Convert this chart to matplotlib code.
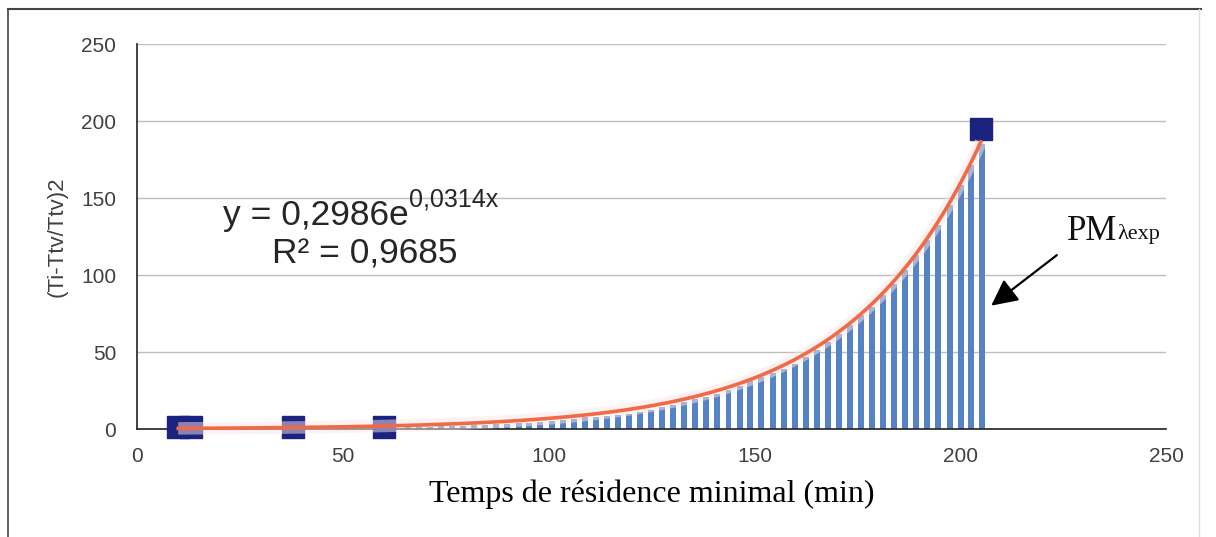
import numpy as np
import matplotlib.pyplot as plt
from matplotlib.lines import Line2D

# points mesurés (carrés)
pts_x = [10, 13, 38, 60, 205]
pts_y = [1.0, 1.0, 1.2, 1.0, 195]

# barres PM lambda exp
bar_x = [65.8, 68.5, 71.2, 73.9, 76.5, 79.2, 81.9, 84.6, 87.3, 90.0,
         92.7, 95.3, 98.0, 100.7, 103.4, 106.1, 108.8, 111.4, 114.1, 116.8,
         119.5, 122.2, 124.9, 127.6, 130.2, 132.9, 135.6, 138.3, 141.0, 143.7,
         146.4, 149.0, 151.7, 154.4, 157.1, 159.8, 162.5, 165.1, 167.8, 170.5,
         173.2, 175.9, 178.6, 181.3, 183.9, 186.6, 189.3, 192.0, 194.7, 197.4,
         200.1, 202.7, 205.4]
bar_y = [1.1, 1.3, 1.5, 1.7, 2.0, 2.2, 2.4, 2.6, 3.0, 3.5,
         3.7, 4.1, 4.8, 5.4, 6.1, 6.7, 7.6, 7.9, 8.4, 9.1,
         9.7, 11.0, 12.5, 14.3, 15.8, 17.7, 19.2, 20.8, 22.9, 25.3,
         28.1, 30.9, 33.8, 36.4, 39.0, 42.5, 46.8, 51.1, 56.5, 61.9,
         67.3, 73.8, 79.2, 86.8, 94.4, 103.0, 112.8, 122.5, 132.3, 145.3,
         158.3, 171.3, 185.4]

# courbe de tendance exponentielle (équation affichée)
coef_a = 0.2986
coef_b = 0.0314

ticks = [0, 50, 100, 150, 200, 250]

plt.rcParams['font.family'] = ['Liberation Sans', 'DejaVu Sans']

fig = plt.figure(figsize=(12.16, 5.37), dpi=100)
ax = fig.add_axes([0.1127, 0.2011, 0.8462, 0.7169])

ax.bar(bar_x, bar_y, width=1.45, color='#5683C4', zorder=2)
ax.plot(pts_x, pts_y, 's', color='#1B237F', markersize=16, zorder=3,
        linestyle='none', clip_on=False)

xt = np.linspace(min(pts_x), max(pts_x), 300)
yt = coef_a * np.exp(coef_b * xt)
ax.plot(xt, yt, color='#FBE6E6', lw=9, alpha=0.5, zorder=3.5,
        solid_capstyle='butt', clip_on=False)
ax.plot(xt, yt, color='#F26A45', lw=2.6, zorder=4, clip_on=False)

ax.set_xlim(0, 250)
ax.set_ylim(0, 250)
ax.set_xticks(ticks)
ax.set_yticks(ticks)
ax.yaxis.grid(True, color='#BDBDBD', lw=1.0)
ax.set_axisbelow(True)
for s in ['top', 'right']:
    ax.spines[s].set_visible(False)
ax.spines['left'].set_color('#222222')
ax.spines['bottom'].set_color('#222222')
ax.spines['left'].set_linewidth(1.2)
ax.spines['bottom'].set_linewidth(1.2)
ax.tick_params(length=0, labelsize=15, labelcolor='#404040')
ax.tick_params(axis='y', pad=15)
ax.tick_params(axis='x', pad=13)

ax.set_ylabel('(Ti-Ttv/Ttv)2', fontsize=16, color='#404040', labelpad=10)
ax.set_xlabel('Temps de résidence minimal (min)', fontsize=23,
              family=['Liberation Serif'], labelpad=10)

# équation et R²
t1 = ax.text(20.9, 138.8, 'y = 0,2986e', fontsize=25.5, color='#262626',
             ha='left', va='center')
ax.annotate('0,0314x', xy=(1, 0.6), xycoords=t1, fontsize=18,
            color='#262626', ha='left', va='bottom')
ax.text(55.3, 113.5, 'R² = 0,9685', fontsize=25.5, color='#262626',
        ha='center', va='center')

# flèche PM lambda exp
t2 = ax.text(225.9, 128, 'PM', fontsize=25, family=['Liberation Serif'],
             color='#111111', ha='left', va='center')
ax.annotate('λexp', xy=(1, 0.12), xycoords=t2, fontsize=16,
            family=['Liberation Serif'], color='#111111', ha='left', va='bottom')
ax.annotate('', xy=(207, 79), xytext=(224, 114),
            arrowprops=dict(arrowstyle='-|>,head_length=0.8,head_width=0.4',
                            mutation_scale=20, color='black', lw=1.6))

# cadre extérieur
fig.add_artist(Line2D([0.0066, 0.988], [0.983, 0.983], color='#444444', lw=1.5))
fig.add_artist(Line2D([0.0066, 0.0066], [0.0, 0.983], color='#444444', lw=1.2))
fig.add_artist(Line2D([0.986, 0.986], [0.0, 0.983], color='#DDDDDD', lw=1.0))

fig.savefig('out.png', dpi=100)
